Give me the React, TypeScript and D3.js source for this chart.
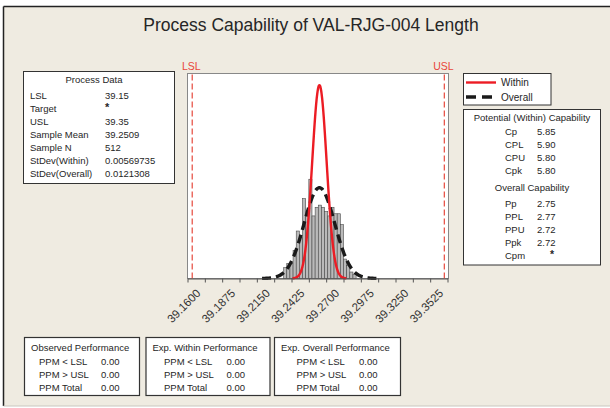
import React, { useRef, useEffect } from 'react';
import * as d3 from 'd3';

// process data
const LSL = 39.15;
const USL = 39.35;
const sampleMean = 39.2509;
const sampleN = 512;
const sdWithin = 0.00569735;
const sdOverall = 0.0121308;

// histogram (bins of 0.0025 starting at 39.2225)
const binStart = 39.2225;
const binWidth = 0.0025;
const binCounts = [5, 7, 7, 13, 22, 19, 37, 29, 46, 29, 33, 34, 33, 31, 29, 33, 30, 30, 25, 9, 6, 3, 2];

// x axis
const axisMin = 39.14625;
const axisMax = 39.3525;
const tickStep = 0.01375;
const tickLabels = ['39.1600', '39.1875', '39.2150', '39.2425', '39.2700', '39.2975', '39.3250', '39.3525'];

const processRows = [
  ['LSL', '39.15'],
  ['Target', '*'],
  ['USL', '39.35'],
  ['Sample Mean', '39.2509'],
  ['Sample N', '512'],
  ['StDev(Within)', '0.00569735'],
  ['StDev(Overall)', '0.0121308'],
];
const withinRows = [['Cp', '5.85'], ['CPL', '5.90'], ['CPU', '5.80'], ['Cpk', '5.80']];
const overallRows = [['Pp', '2.75'], ['PPL', '2.77'], ['PPU', '2.72'], ['Ppk', '2.72'], ['Cpm', '*']];
const perfBoxes = [
  { title: 'Observed Performance', rows: [['PPM < LSL', '0.00'], ['PPM > USL', '0.00'], ['PPM Total', '0.00']] },
  { title: 'Exp. Within Performance', rows: [['PPM < LSL', '0.00'], ['PPM > USL', '0.00'], ['PPM Total', '0.00']] },
  { title: 'Exp. Overall Performance', rows: [['PPM < LSL', '0.00'], ['PPM > USL', '0.00'], ['PPM Total', '0.00']] },
];

const FONT = '"Liberation Sans", Arial, sans-serif';
const TXT = '#262626';
const FS = 9.5;

const App = () => {
  const ref = useRef<SVGSVGElement>(null);

  useEffect(() => {
    const svg = d3.select(ref.current);
    svg.selectAll('*').remove();
    svg.attr('font-family', FONT);

    // background frame
    svg.append('rect').attr('x', 0).attr('y', 0).attr('width', 610).attr('height', 408).attr('fill', '#fff');
    svg.append('rect').attr('x', 3.5).attr('y', 6.5).attr('width', 610).attr('height', 399.5)
      .attr('fill', '#efebe1').attr('stroke', 'none');
    svg.append('line').attr('x1', 3.5).attr('x2', 610).attr('y1', 6.5).attr('y2', 6.5).attr('stroke', '#222').attr('stroke-width', 1.5);
    svg.append('line').attr('x1', 3.5).attr('x2', 3.5).attr('y1', 6.5).attr('y2', 406).attr('stroke', '#222').attr('stroke-width', 1.5);
    svg.append('line').attr('x1', 3.5).attr('x2', 610).attr('y1', 406).attr('y2', 406).attr('stroke', '#c9c6bf').attr('stroke-width', 1);

    svg.append('text').attr('x', 311).attr('y', 31).attr('text-anchor', 'middle')
      .attr('font-size', 17.5).attr('fill', TXT).text('Process Capability of VAL-RJG-004 Length');

    // plot area
    const left = 187.5, right = 447.5, top = 73.5, bottom = 278.5;
    const x = d3.scaleLinear().domain([axisMin, axisMax]).range([left, right]);
    const y = d3.scaleLinear().domain([0, 95]).range([bottom, top]);

    svg.append('rect').attr('x', left).attr('y', top).attr('width', right - left + 1).attr('height', bottom - top)
      .attr('fill', '#fff').attr('stroke', '#888').attr('stroke-width', 1);

    // bars
    svg.append('g').selectAll('rect').data(binCounts).enter().append('rect')
      .attr('x', (d, i) => x(binStart + i * binWidth))
      .attr('y', d => y(d))
      .attr('width', x(binStart + binWidth) - x(binStart))
      .attr('height', d => y(0) - y(d))
      .attr('fill', '#bababa')
      .attr('stroke', '#4a4a4a')
      .attr('stroke-width', 0.6);

    // spec limits
    [LSL, USL].forEach(v => {
      svg.append('line').attr('x1', x(v)).attr('x2', x(v)).attr('y1', top + 1).attr('y2', bottom)
        .attr('stroke', '#e8574c').attr('stroke-width', 1.3).attr('stroke-dasharray', '6,3');
    });
    svg.append('text').attr('x', x(LSL) - 1).attr('y', 70).attr('text-anchor', 'middle')
      .attr('font-size', 10.5).attr('fill', '#e8463a').text('LSL');
    svg.append('text').attr('x', x(USL) - 1).attr('y', 70).attr('text-anchor', 'middle')
      .attr('font-size', 10.5).attr('fill', '#e8463a').text('USL');

    // fitted normal curves
    const curve = (sd: number) => {
      const pts = d3.range(sampleMean - 3.75 * sd, sampleMean + 3.75 * sd, sd / 40);
      return pts.map(v => [v, sampleN * binWidth * Math.exp(-0.5 * ((v - sampleMean) / sd) ** 2) / (sd * Math.sqrt(2 * Math.PI))]);
    };
    const line = d3.line<number[]>().x(d => x(d[0])).y(d => y(d[1])).curve(d3.curveBasis);
    svg.append('path').attr('d', line(curve(sdOverall))).attr('fill', 'none')
      .attr('stroke', '#1a1a1a').attr('stroke-width', 3.4).attr('stroke-dasharray', '9,5');
    svg.append('path').attr('d', line(curve(sdWithin))).attr('fill', 'none')
      .attr('stroke', '#ec1c24').attr('stroke-width', 2.4);

    // axis
    const ticks = d3.range(16).map(i => axisMin + i * tickStep);
    const axis = d3.axisBottom(x).tickValues(ticks).tickSize(4).tickSizeOuter(0).tickFormat(() => '');
    const ag = svg.append('g').attr('transform', `translate(0,${bottom})`).call(axis);
    ag.select('.domain').attr('stroke', '#555');
    ag.selectAll('.tick line').attr('stroke', '#555');
    svg.append('g').selectAll('text').data(tickLabels).enter().append('text')
      .attr('transform', d => `translate(${x(+d) - 3.5},${bottom + 15.5}) rotate(-45)`)
      .attr('text-anchor', 'end').attr('font-size', 11.5).attr('fill', '#333')
      .text(d => d);

    // process data box
    const pd = svg.append('g');
    pd.append('rect').attr('x', 23.5).attr('y', 71.5).attr('width', 151).attr('height', 112)
      .attr('fill', '#fff').attr('stroke', '#333').attr('stroke-width', 1);
    pd.append('text').attr('x', 94).attr('y', 83).attr('text-anchor', 'middle').attr('font-size', FS).attr('fill', TXT).text('Process Data');
    processRows.forEach((r, i) => {
      const yy = 99 + i * 13;
      pd.append('text').attr('x', 30).attr('y', yy).attr('font-size', FS).attr('fill', TXT).text(r[0]);
      pd.append('text').attr('x', 105).attr('y', r[1] === '*' ? yy - 1 : yy).attr('font-size', r[1] === '*' ? 11 : FS)
        .attr('font-weight', r[1] === '*' ? 'bold' : 'normal').attr('fill', TXT).text(r[1]);
    });

    // legend
    const lg = svg.append('g');
    lg.append('rect').attr('x', 463.5).attr('y', 73.5).attr('width', 87.5).attr('height', 31.5)
      .attr('fill', '#fff').attr('stroke', '#333').attr('stroke-width', 1);
    lg.append('line').attr('x1', 466).attr('x2', 496).attr('y1', 82.5).attr('y2', 82.5).attr('stroke', '#ec1c24').attr('stroke-width', 2.4);
    lg.append('text').attr('x', 501).attr('y', 86).attr('font-size', FS + 0.5).attr('fill', TXT).text('Within');
    lg.append('line').attr('x1', 466).attr('x2', 496).attr('y1', 97).attr('y2', 97).attr('stroke', '#1a1a1a')
      .attr('stroke-width', 3.4).attr('stroke-dasharray', '10,6');
    lg.append('text').attr('x', 501).attr('y', 100.5).attr('font-size', FS + 0.5).attr('fill', TXT).text('Overall');

    // capability box
    const cb = svg.append('g');
    cb.append('rect').attr('x', 463.5).attr('y', 109.5).attr('width', 137).attr('height', 155.5)
      .attr('fill', '#fff').attr('stroke', '#333').attr('stroke-width', 1);
    cb.append('text').attr('x', 532).attr('y', 121).attr('text-anchor', 'middle').attr('font-size', FS).attr('fill', TXT)
      .text('Potential (Within) Capability');
    withinRows.forEach((r, i) => {
      const yy = 135 + i * 13;
      cb.append('text').attr('x', 505).attr('y', yy).attr('font-size', FS).attr('fill', TXT).text(r[0]);
      cb.append('text').attr('x', 537).attr('y', yy).attr('font-size', FS).attr('fill', TXT).text(r[1]);
    });
    cb.append('text').attr('x', 532).attr('y', 191).attr('text-anchor', 'middle').attr('font-size', FS).attr('fill', TXT)
      .text('Overall Capability');
    overallRows.forEach((r, i) => {
      const yy = 207 + i * 13;
      cb.append('text').attr('x', 505).attr('y', yy).attr('font-size', FS).attr('fill', TXT).text(r[0]);
      if (r[1] === '*') {
        cb.append('text').attr('x', 550).attr('y', yy - 1).attr('font-size', 10.5).attr('font-weight', 'bold').attr('fill', TXT).text('*');
      } else {
        cb.append('text').attr('x', 537).attr('y', yy).attr('font-size', FS).attr('fill', TXT).text(r[1]);
      }
    });

    // performance boxes
    const boxX = [24, 145.5, 274];
    const boxW = [115, 124, 126];
    const titleDx = [7, 7, 7];
    const labelDx = [15, 18.5, 22.5];
    const valueDx = [77, 81, 85];
    perfBoxes.forEach((b, k) => {
      const g = svg.append('g');
      g.append('rect').attr('x', boxX[k] + 0.5).attr('y', 337.5).attr('width', boxW[k]).attr('height', 58)
        .attr('fill', '#fff').attr('stroke', '#333').attr('stroke-width', 1.2);
      g.append('text').attr('x', boxX[k] + titleDx[k]).attr('y', 350.5).attr('font-size', FS).attr('fill', TXT).text(b.title);
      b.rows.forEach((r, i) => {
        const yy = 365 + i * 13;
        g.append('text').attr('x', boxX[k] + labelDx[k]).attr('y', yy).attr('font-size', FS).attr('fill', TXT).text(r[0]);
        g.append('text').attr('x', boxX[k] + valueDx[k]).attr('y', yy).attr('font-size', FS).attr('fill', TXT).text(r[1]);
      });
    });
  }, []);

  return (
    <svg ref={ref} width={610} height={408} style={{ position: 'absolute', left: 0, top: 0 }}></svg>
  );
};

export default App;
